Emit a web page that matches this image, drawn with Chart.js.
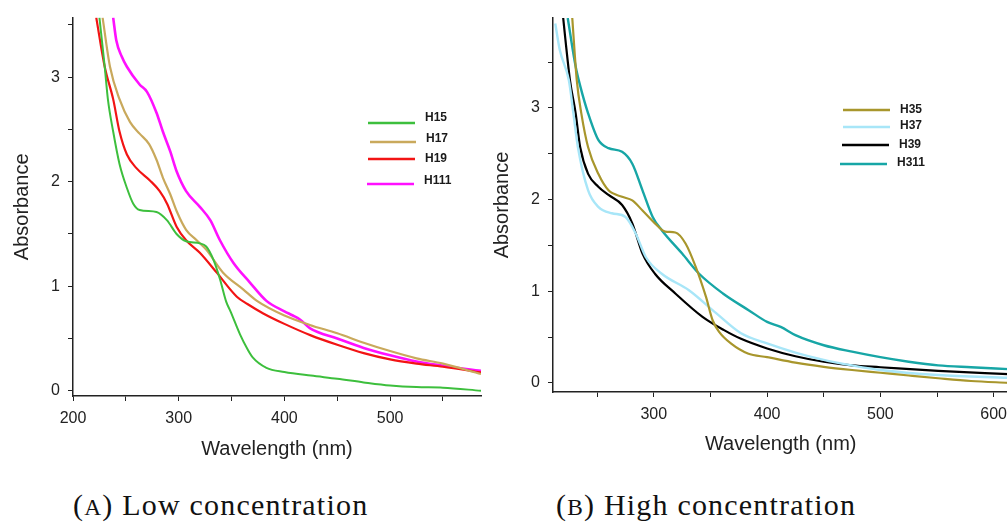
<!DOCTYPE html>
<html>
<head>
<meta charset="utf-8">
<script src="https://cdn.jsdelivr.net/npm/chart.js@4.4.0/dist/chart.umd.min.js"></script>
<style>
  html, body { margin: 0; padding: 0; background: #fff; }
  body { width: 1007px; height: 522px; position: relative; overflow: hidden; }
  #wrapA { position: absolute; left: 0; top: 0; width: 500px; height: 470px; }
  #wrapB { position: absolute; left: 480px; top: 0; width: 535px; height: 470px; }
  .caption {
    position: absolute; top: 488px;
    font-family: "Liberation Serif", "DejaVu Serif", serif;
    font-size: 30px; letter-spacing: 1.2px; color: #111; white-space: nowrap;
  }
  .caption .sc { font-size: 0.78em; }
</style>
</head>
<body>
<div id="wrapA"><canvas id="chartA" width="500" height="470"></canvas></div>
<div id="wrapB"><canvas id="chartB" width="535" height="470"></canvas></div>
<div class="caption" style="left:73px">(<span class="sc">A</span>) Low concentration</div>
<div class="caption" style="left:556px">(<span class="sc">B</span>) High concentration</div>

<script>
// --- datos panel A (baja concentración) ---
const h15Wl = [225, 230, 233, 238, 244, 251, 257, 263, 279, 289, 298, 307, 320, 326, 333, 339, 345, 349, 358, 365, 370, 383, 400, 425, 450, 475, 500, 525, 550, 586];
const h15Abs = [3.57, 3.10, 2.79, 2.48, 2.17, 1.94, 1.79, 1.73, 1.71, 1.63, 1.50, 1.43, 1.41, 1.38, 1.25, 1.07, 0.85, 0.76, 0.54, 0.40, 0.32, 0.22, 0.18, 0.145, 0.115, 0.08, 0.05, 0.035, 0.03, 0.0];

const h17Wl = [228, 235, 244, 254, 263, 272, 279, 285, 292, 298, 307, 317, 326, 342, 361, 374, 400, 424, 450, 475, 500, 525, 550, 586];
const h17Abs = [3.57, 3.10, 2.79, 2.57, 2.46, 2.36, 2.21, 2.04, 1.88, 1.72, 1.54, 1.44, 1.35, 1.13, 0.97, 0.86, 0.72, 0.63, 0.55, 0.46, 0.38, 0.31, 0.26, 0.16];

const h19Wl = [222, 230, 238, 244, 251, 260, 273, 282, 289, 298, 307, 320, 336, 355, 365, 380, 400, 425, 450, 475, 500, 525, 550, 586];
const h19Abs = [3.57, 3.10, 2.79, 2.48, 2.26, 2.13, 2.01, 1.91, 1.79, 1.57, 1.44, 1.32, 1.13, 0.90, 0.83, 0.74, 0.64, 0.53, 0.44, 0.36, 0.30, 0.26, 0.23, 0.175];

const h111Wl = [238, 241, 246, 251, 263, 270, 279, 285, 292, 298, 307, 320, 330, 339, 352, 367, 383, 400, 408, 415, 424, 450, 475, 500, 525, 550, 586];
const h111Abs = [3.57, 3.35, 3.2, 3.10, 2.93, 2.86, 2.66, 2.48, 2.29, 2.10, 1.91, 1.76, 1.63, 1.44, 1.22, 1.04, 0.86, 0.76, 0.72, 0.68, 0.60, 0.50, 0.41, 0.34, 0.28, 0.24, 0.19];

// --- datos panel B (alta concentración) ---
const h35Wl = [228, 232, 236, 242, 251, 260, 272, 281, 290, 301, 310, 319, 328, 337, 346, 352, 358, 368, 383, 400, 425, 450, 475, 500, 525, 551, 580, 613];
const h35Abs = [3.98, 3.30, 2.94, 2.57, 2.28, 2.10, 2.03, 1.99, 1.88, 1.74, 1.65, 1.64, 1.52, 1.265, 0.94, 0.68, 0.55, 0.43, 0.32, 0.28, 0.22, 0.175, 0.14, 0.11, 0.08, 0.05, 0.02, 0.0];

const h37Wl = [213, 217, 225, 229, 233, 242, 251, 263, 275, 284, 293, 307, 331, 355, 377, 400, 425, 450, 475, 500, 551, 613];
const h37Abs = [3.92, 3.63, 3.30, 2.94, 2.57, 2.10, 1.92, 1.85, 1.81, 1.63, 1.37, 1.19, 1.01, 0.76, 0.54, 0.43, 0.33, 0.25, 0.19, 0.14, 0.085, 0.055];

const h39Wl = [220, 222, 226, 231, 235, 242, 251, 260, 272, 281, 290, 301, 319, 343, 362, 377, 400, 425, 450, 475, 500, 551, 613];
const h39Abs = [3.98, 3.74, 3.30, 2.94, 2.57, 2.28, 2.14, 2.05, 1.94, 1.74, 1.41, 1.19, 0.975, 0.72, 0.575, 0.48, 0.375, 0.29, 0.23, 0.19, 0.17, 0.13, 0.095];

const h311Wl = [224, 231, 235, 242, 251, 260, 272, 281, 290, 299, 307, 325, 340, 361, 384, 400, 412, 425, 450, 475, 500, 525, 551, 580, 613];
const h311Abs = [3.98, 3.45, 3.24, 2.94, 2.65, 2.56, 2.52, 2.39, 2.10, 1.81, 1.665, 1.41, 1.19, 0.975, 0.79, 0.665, 0.61, 0.52, 0.41, 0.34, 0.28, 0.23, 0.19, 0.17, 0.15];

// --- marcas de los ejes ---
const xTicksA = [200, 250, 300, 350, 400, 450, 500, 550];
const xTicksB = [250, 300, 350, 400, 450, 500, 550, 600];
const yTicksA = [0, 0.5, 1, 1.5, 2, 2.5, 3, 3.5];
const yTicksB = [0, 0.5, 1, 1.5, 2, 2.5, 3, 3.5];

const xTitle = "Wavelength (nm)";
const yTitle = "Absorbance";

const pares = (xs, ys) => xs.map((x, i) => ({ x: x, y: ys[i] }));

function serie(label, xs, ys, color, ancho) {
  return {
    label: label,
    data: pares(xs, ys),
    borderColor: color,
    backgroundColor: color,
    borderWidth: ancho,
    pointRadius: 0,
    showLine: true,
    cubicInterpolationMode: "monotone"
  };
}

// leyenda dibujada a mano dentro del área del gráfico
const leyendaManual = {
  id: "leyendaManual",
  afterDraw(chart, args, opts) {
    const ctx = chart.ctx;
    ctx.save();
    chart.data.datasets.forEach((ds, i) => {
      const e = opts.items[i];
      ctx.strokeStyle = ds.borderColor;
      ctx.lineWidth = 2.5;
      ctx.beginPath();
      ctx.moveTo(e.x0, e.y);
      ctx.lineTo(e.x1, e.y);
      ctx.stroke();
      ctx.fillStyle = "#1a1a1a";
      ctx.font = "bold 12px 'Liberation Sans', Arial, sans-serif";
      ctx.textBaseline = "middle";
      ctx.fillText(ds.label, e.tx, e.ty);
    });
    ctx.restore();
  }
};

function ejes(xmin, xmax, ymin, ymax, xTicks, yTicks, xPadBottom, xAlto) {
  const colorTexto = "#222";
  const fuente = "'Liberation Sans', Arial, sans-serif";
  return {
    x: {
      type: "linear",
      min: xmin,
      max: xmax,
      afterFit: (s) => { s.height = xAlto; },
      afterBuildTicks: (s) => { s.ticks = xTicks.map((v) => ({ value: v })); },
      border: { display: true, color: "#222", width: 1.5 },
      grid: { drawOnChartArea: false, drawTicks: true, tickLength: 5, color: "#222", tickWidth: 1 },
      ticks: {
        autoSkip: false,
        maxRotation: 0,
        padding: 8,
        color: colorTexto,
        font: { family: fuente, size: 16 },
        callback: (v) => (v % 100 === 0 ? v : "")
      },
      title: {
        display: true,
        text: xTitle,
        color: colorTexto,
        font: { family: fuente, size: 20 },
        padding: { top: 0, bottom: xPadBottom }
      }
    },
    y: {
      type: "linear",
      min: ymin,
      max: ymax,
      afterFit: (s) => { s.width = 73; },
      afterBuildTicks: (s) => { s.ticks = yTicks.map((v) => ({ value: v })); },
      border: { display: true, color: "#222", width: 1.5 },
      grid: { drawOnChartArea: false, drawTicks: true, tickLength: 5, color: "#222", tickWidth: 1 },
      ticks: {
        autoSkip: false,
        padding: 8,
        color: colorTexto,
        font: { family: fuente, size: 16 },
        callback: (v) => (Number.isInteger(v) ? v : "")
      },
      title: {
        display: true,
        text: yTitle,
        color: colorTexto,
        font: { family: fuente, size: 20 },
        padding: { top: 10.5, bottom: 0 }
      }
    }
  };
}

new Chart(document.getElementById("chartA").getContext("2d"), {
  type: "scatter",
  data: {
    datasets: [
      serie("H15", h15Wl, h15Abs, "#3dbf3d", 2),
      serie("H17", h17Wl, h17Abs, "#c9a95c", 2.2),
      serie("H19", h19Wl, h19Abs, "#f21414", 2.2),
      serie("H111", h111Wl, h111Abs, "#ff10ff", 2.6)
    ]
  },
  options: {
    responsive: false,
    animation: false,
    layout: { padding: { left: 0, top: 10, right: 19, bottom: 0 } },
    scales: ejes(200, 586, -0.05, 3.57, xTicksA, yTicksA, 9, 74),
    plugins: {
      legend: { display: false },
      tooltip: { enabled: false },
      leyendaManual: {
        items: [
          { x0: 368, x1: 415, y: 123, tx: 425, ty: 118 },
          { x0: 370, x1: 416, y: 142, tx: 426, ty: 139 },
          { x0: 368, x1: 415, y: 159, tx: 425, ty: 159 },
          { x0: 367, x1: 414, y: 184, tx: 424, ty: 181 }
        ]
      }
    }
  },
  plugins: [leyendaManual]
});

new Chart(document.getElementById("chartB").getContext("2d"), {
  type: "scatter",
  data: {
    datasets: [
      serie("H35", h35Wl, h35Abs, "#a8962c", 2.2),
      serie("H37", h37Wl, h37Abs, "#a8e6f8", 2.4),
      serie("H39", h39Wl, h39Abs, "#000000", 2.2),
      serie("H311", h311Wl, h311Abs, "#17a6a6", 2.4)
    ]
  },
  options: {
    responsive: false,
    animation: false,
    layout: { padding: { left: 0, top: 18, right: 0, bottom: 0 } },
    scales: ejes(211, 613, -0.1, 3.98, xTicksB, yTicksB, 13.5, 78),
    plugins: {
      legend: { display: false },
      tooltip: { enabled: false },
      leyendaManual: {
        items: [
          { x0: 363, x1: 410, y: 110, tx: 420, ty: 110 },
          { x0: 363, x1: 410, y: 127, tx: 420, ty: 126 },
          { x0: 362, x1: 409, y: 145, tx: 419, ty: 145 },
          { x0: 360, x1: 407, y: 164, tx: 417, ty: 163 }
        ]
      }
    }
  },
  plugins: [leyendaManual]
});
</script>
</body>
</html>
